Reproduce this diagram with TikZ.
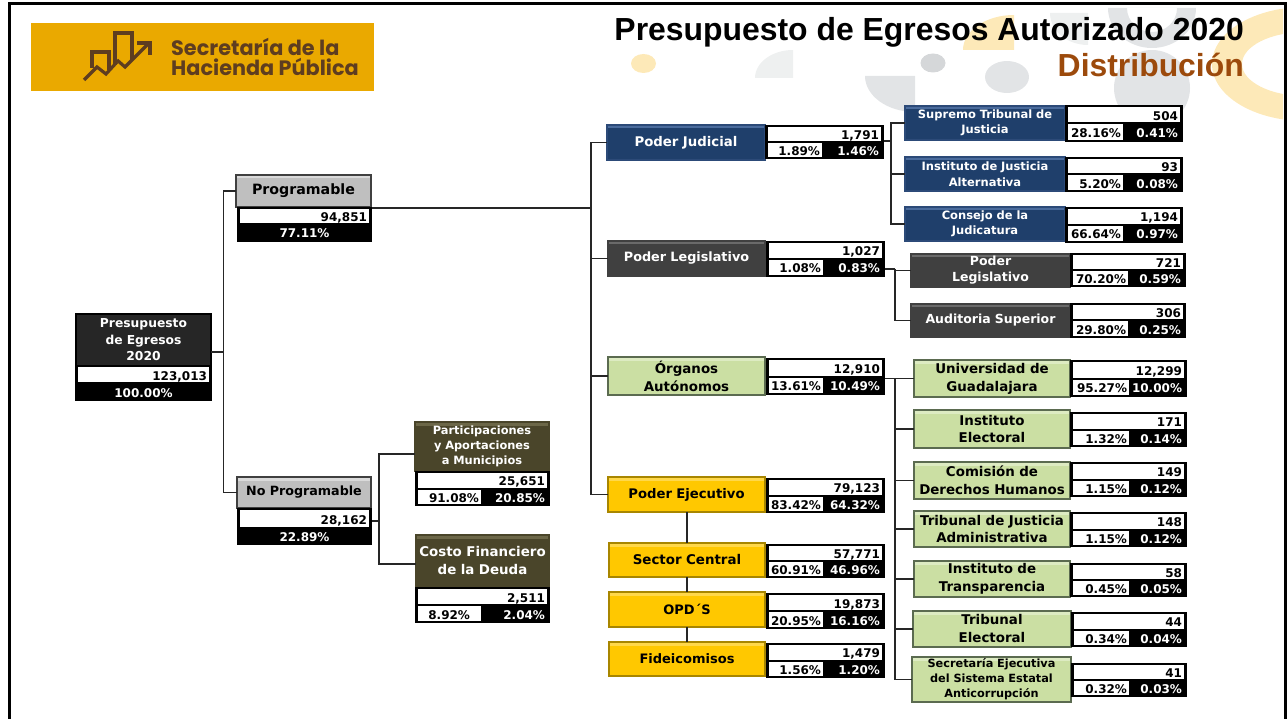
\documentclass[tikz,border=0pt]{standalone}
\usepackage{fontspec}
\usepackage{tikz}
\setmainfont{DejaVu Sans}
\newfontfamily\titlefont{Liberation Sans}
\newfontfamily\logofont{Poppins}

\definecolor{logogold}{HTML}{EAA900}
\definecolor{logobrown}{HTML}{5E3D20}
\definecolor{titlebrown}{HTML}{9C4A0C}
\definecolor{paleyellow}{HTML}{FDE9B8}
\definecolor{palegray}{HTML}{EEF0F0}
\definecolor{midgray}{HTML}{E2E4E6}
\definecolor{dotgray}{HTML}{D5D7D9}
\definecolor{navyfill}{HTML}{1F3F6B}
\definecolor{navyedge}{HTML}{2C4A78}
\definecolor{navytop}{HTML}{4A6B9C}
\definecolor{coalfill}{HTML}{404040}
\definecolor{coaltop}{HTML}{6A6A6A}
\definecolor{greenfill}{HTML}{CBDFA3}
\definecolor{greenedge}{HTML}{5B6B50}
\definecolor{greentop}{HTML}{DDEBC2}
\definecolor{goldfill}{HTML}{FFC800}
\definecolor{goldedge}{HTML}{A88600}
\definecolor{goldtop}{HTML}{FFD84A}
\definecolor{olivefill}{HTML}{4A452A}
\definecolor{olivetop}{HTML}{6C6748}
\definecolor{steelfill}{HTML}{BFBFBF}
\definecolor{steeltop}{HTML}{DADADA}

\newcommand{\fs}[2]{\fontsize{#1}{#2}\selectfont\bfseries}

\tikzset{
    orgnode/.style={rectangle, inner xsep=2pt, inner ysep=0pt, outer sep=0pt, align=center, line width=1.3pt},
    bevel/.style n args={3}{fill=#1, draw=#2,
        path picture={\fill[#3] (path picture bounding box.north west) rectangle ([yshift=-3.5pt]path picture bounding box.north east);}},
    bluebox/.style={orgnode, bevel={navyfill}{navyedge}{navytop}, text=white},
    coalbox/.style={orgnode, bevel={coalfill}{coalfill}{coaltop}, text=white},
    greenbox/.style={orgnode, bevel={greenfill}{greenedge}{greentop}, text=black},
    goldbox/.style={orgnode, bevel={goldfill}{goldedge}{goldtop}, text=black},
    olivebox/.style={orgnode, bevel={olivefill}{olivefill}{olivetop}, text=white},
    steelbox/.style={orgnode, bevel={steelfill}{coalfill}{steeltop}, text=black},
    rootbox/.style={orgnode, fill=black!85, draw=black, text=white},
    tablebase/.style={rectangle, fill=black, inner xsep=2pt, inner ysep=0pt, outer sep=0pt},
    whitecell/.style={rectangle, fill=white, inner xsep=2pt, inner ysep=0pt, outer sep=0pt, align=right, text=black, text height=11pt, text depth=0pt, font=\fs{12}{14}},
    blackcell/.style={rectangle, inner xsep=2pt, inner ysep=0pt, outer sep=0pt, align=right, text=white, text height=11pt, text depth=0pt, font=\fs{12}{14}},
    centercell/.style={blackcell, align=center},
    bus/.style={line width=1.8pt, black!85},
}

\begin{document}
\begin{tikzpicture}[x=1pt, y=-1pt]

    \useasboundingbox (0,0) rectangle (1288,719);

    % Placed node: name, style, x0, y0, x1, y1, text
    \def\place#1#2#3#4#5#6#7{
        \pgfmathsetmacro\tw{(#5)-(#3)-4}
        \pgfmathsetmacro\th{(#6)-(#4)}
        \node[#2, text width=\tw pt, minimum height=\th pt] (#1) at ({((#3)+(#5))/2},{((#4)+(#6))/2}) {#7};
    }

    % Table with split percent row: name, x0, y0, x1, y1, split, value, pct, pct
    \def\splitdata#1#2#3#4#5#6#7#8#9{
        \pgfmathsetmacro\ym{(#3+#5)/2}
        \place{#1t}{tablebase}{#2}{#3}{#4}{#5}{}
        \place{#1v}{whitecell}{#2+3}{#3+2}{#4-3}{\ym-1}{#7}
        \place{#1p}{whitecell}{#2+3}{\ym+1}{#6}{#5-2}{#8}
        \place{#1q}{blackcell}{#6}{\ym+1}{#4-3}{#5-2}{#9}
    }

    % Table with one black percent row: name, x0, y0, x1, split row, y1, value, pct
    \def\plaindata#1#2#3#4#5#6#7#8{
        \place{#1t}{tablebase}{#2}{#3}{#4}{#6}{}
        \place{#1v}{whitecell}{#2+3}{#3+2}{#4-3}{#5}{#7}
        \place{#1q}{centercell}{#2}{#5}{#4}{#6}{#8}
    }

    % Watermark behind the title
    \begin{scope}
        \clip (0,0) rectangle (1283,719);
        \fill[paleyellow, even odd rule] (1305,64) ellipse [x radius=93, y radius=57]
            (1305,64) ellipse [x radius=63, y radius=32];
        \fill[paleyellow] (643.5,63.5) ellipse [x radius=12.5, y radius=9.5];
        \fill[paleyellow] (1014,50) -- (963,50) arc [start angle=180, end angle=90, x radius=51, y radius=-35] -- cycle;
        \fill[palegray] (793,78) -- (755,78) arc [start angle=180, end angle=90, x radius=38, y radius=-28] -- cycle;
        \fill[midgray] (915,76) -- (865,76) arc [start angle=180, end angle=270, x radius=50, y radius=-36] -- cycle;
        \fill[palegray] (1088,13) -- (1050,13) arc [start angle=180, end angle=270, x radius=38, y radius=-32] -- cycle;
        \fill[dotgray] (933,63) ellipse [x radius=12.5, y radius=9.5];
        \fill[midgray] (1007,77) ellipse [x radius=22, y radius=16];
        \fill[midgray] (1152,88) circle (38);
        \fill[midgray, even odd rule] (1108,8) arc [start angle=180, end angle=360, x radius=44, y radius=-40] -- cycle
            (1127,8) arc [start angle=180, end angle=360, x radius=25, y radius=-24] -- cycle;
    \end{scope}

    % Frame, open at the bottom
    \draw[line width=3pt, black] (9,719) -- (9,4) -- (1285,4) -- (1285,719);

    % Logo
    \fill[logogold] (31,23) rectangle (374,91);
    \begin{scope}[logobrown, line width=3.2pt]
        \draw (84,80) -- (97,67) -- (106,74) -- (117,62);
        \draw (92,68) -- (92,52) -- (109,52) -- (109,70);
        \draw (115,65) -- (115,33) -- (132,33) -- (132,60);
        \draw (117,60) -- (125,67) -- (149,43);
        \draw (137,43) -- (150,43) -- (150,55);
    \end{scope}
    \node[logobrown, anchor=base west, inner sep=0pt, align=left, font=\logofont\fontsize{20.8}{19.5}\selectfont\bfseries] (logotext) at (171,75.5) {Secretaría de la\\Hacienda Pública};

    % Title
    \node[anchor=base east, inner sep=0pt, font=\titlefont\fontsize{31.9}{34}\selectfont\bfseries] (title) at (1244,41) {Presupuesto de Egresos Autorizado 2020};
    \node[anchor=base east, inner sep=0pt, text=titlebrown, font=\titlefont\fontsize{31.9}{34}\selectfont\bfseries] (subtitle) at (1244,77) {Distribución};

    % Left side
    \place{root}{rootbox, font=\fs{12.3}{16.5}}{76}{314}{211}{366}{Presupuesto\\de Egresos\\2020}
    \plaindata{root}{75}{365}{212}{382}{401}{123,013}{100.00\%}
    \place{prog}{steelbox, font=\fs{14.2}{15}}{236}{175}{371}{207}{Programable}
    \plaindata{prog}{237}{207}{372}{223}{242}{94,851}{77.11\%}
    \place{noprog}{steelbox, font=\fs{12.7}{15}}{237}{477}{371}{508}{No Programable}
    \plaindata{noprog}{237}{508}{372}{527}{545}{28,162}{22.89\%}
    \place{partic}{olivebox, font=\fs{11.4}{15}}{415}{422}{549}{471}{Participaciones\\y Aportaciones\\a Municipios}
    \splitdata{partic}{415}{471}{550}{506}{481}{25,651}{91.08\%}{20.85\%}
    \place{costo}{olivebox, font=\fs{13.4}{18}}{416}{535}{549}{587}{Costo Financiero\\de la Deuda}
    \splitdata{costo}{415}{587}{550}{623}{481}{2,511}{8.92\%\hspace*{9pt}}{2.04\%}

    % Second column
    \place{judicial}{bluebox, font=\fs{13.3}{15}}{607}{125}{765}{160}{Poder Judicial}
    \splitdata{judicial}{765}{125}{884}{159}{822}{1,791}{1.89\%}{1.46\%}
    \place{legis}{coalbox, font=\fs{12.8}{15}}{608}{241}{765}{276}{Poder Legislativo}
    \splitdata{legis}{766}{241}{885}{277}{823}{1,027}{1.08\%}{0.83\%}
    \place{organos}{greenbox, font=\fs{13.4}{18}}{608}{357}{765}{395}{Órganos\\Autónomos}
    \splitdata{organos}{766}{358}{885}{395}{823}{12,910}{13.61\%}{10.49\%}
    \place{ejecutivo}{goldbox, font=\fs{13.2}{15}}{608}{477}{765}{512}{Poder Ejecutivo}
    \splitdata{ejecutivo}{766}{478}{885}{513}{823}{79,123}{83.42\%}{64.32\%}
    \place{sector}{goldbox, font=\fs{13.4}{15}}{609}{543}{765}{577}{Sector Central}
    \splitdata{sector}{766}{544}{885}{578}{823}{57,771}{60.91\%}{46.96\%}
    \place{opd}{goldbox, font=\fs{13}{15}}{609}{592}{765}{627}{OPD´S}
    \splitdata{opd}{766}{593}{885}{629}{823}{19,873}{20.95\%}{16.16\%}
    \place{fide}{goldbox, font=\fs{13}{15}}{609}{642}{765}{676}{Fideicomisos}
    \splitdata{fide}{766}{643}{885}{678}{823}{1,479}{1.56\%}{1.20\%}

    % Third column
    \place{supremo}{bluebox, font=\fs{11.5}{15.5}}{905}{106}{1065}{140}{Supremo Tribunal de\\Justicia}
    \splitdata{supremo}{1065}{105}{1183}{142}{1123}{504}{28.16\%}{0.41\%}
    \place{alterna}{bluebox, font=\fs{11.5}{15.5}}{905}{157}{1065}{191}{Instituto de Justicia\\Alternativa}
    \splitdata{alterna}{1065}{157}{1183}{192}{1123}{93}{5.20\%}{0.08\%}
    \place{consejo}{bluebox, font=\fs{11.5}{15.5}}{905}{207}{1065}{241}{Consejo de la\\Judicatura}
    \splitdata{consejo}{1065}{207}{1183}{243}{1123}{1,194}{66.64\%}{0.97\%}
    \place{congreso}{coalbox, font=\fs{12.5}{16}}{911}{254}{1070}{287}{Poder\\Legislativo}
    \splitdata{congreso}{1070}{253}{1186}{287}{1128}{721}{70.20\%}{0.59\%}
    \place{auditoria}{coalbox, font=\fs{12.5}{16}}{911}{304}{1070}{337}{Auditoria Superior}
    \splitdata{auditoria}{1070}{303}{1186}{338}{1128}{306}{29.80\%}{0.25\%}
    \place{udg}{greenbox, font=\fs{13.4}{18}}{914}{360}{1070}{397}{Universidad de\\Guadalajara}
    \splitdata{udg}{1070}{360}{1187}{397}{1129}{12,299}{95.27\%}{10.00\%}
    \place{electoral}{greenbox, font=\fs{13.4}{17.5}}{914}{410}{1070}{448}{Instituto\\Electoral}
    \splitdata{electoral}{1070}{412}{1187}{447}{1129}{171}{1.32\%}{0.14\%}
    \place{derechos}{greenbox, font=\fs{13.4}{18}}{914}{462}{1070}{499}{Comisión de\\Derechos Humanos}
    \splitdata{derechos}{1070}{462}{1187}{497}{1129}{149}{1.15\%}{0.12\%}
    \place{tja}{greenbox, font=\fs{13.4}{17.5}}{914}{511}{1070}{547}{Tribunal de Justicia\\Administrativa}
    \splitdata{tja}{1070}{512}{1187}{547}{1129}{148}{1.15\%}{0.12\%}
    \place{transp}{greenbox, font=\fs{13.4}{18}}{914}{561}{1070}{597}{Instituto de\\Transparencia}
    \splitdata{transp}{1070}{563}{1187}{597}{1129}{58}{0.45\%}{0.05\%}
    \place{tribunal}{greenbox, font=\fs{13.4}{18}}{913}{611}{1071}{647}{Tribunal\\Electoral}
    \splitdata{tribunal}{1071}{612}{1187}{647}{1129}{44}{0.34\%}{0.04\%}
    \place{anticorr}{greenbox, font=\fs{11.3}{15}}{912}{657}{1071}{702}{Secretaría Ejecutiva\\del Sistema Estatal\\Anticorrupción}
    \splitdata{anticorr}{1071}{663}{1187}{697}{1129}{41}{0.32\%}{0.03\%}

    % Connectors
    \coordinate (rootbus) at (223.5,352);
    \draw[bus] (rootbus -| root.east) -- (rootbus);
    \foreach \n in {prog,noprog} {
        \draw[bus] (rootbus) |- (\n.west);
    }

    \coordinate (npbus) at (379,521);
    \draw[bus] (npbus -| noprogt.east) -- (npbus);
    \draw[bus] (npbus) |- ([yshift=-7.5pt]partic.west);
    \draw[bus] (npbus) |- ([yshift=-3pt]costo.west);

    \coordinate (powerbus) at (591,208);
    \draw[bus] (powerbus -| progt.east) -- (powerbus);
    \foreach \n in {judicial,legis,organos,ejecutivo} {
        \draw[bus] (powerbus) |- (\n.west);
    }

    \coordinate (judbus) at (891,141);
    \draw[bus] (judbus -| judicialt.east) -- (judbus);
    \foreach \n in {supremo,alterna,consejo} {
        \draw[bus] (judbus) |- (\n.west);
    }

    \coordinate (legbus) at (895,269);
    \draw[bus] (legbus -| legist.east) -- (legbus);
    \foreach \n in {congreso,auditoria} {
        \draw[bus] (legbus) |- (\n.west);
    }

    \coordinate (orgbus) at (895,378.5);
    \draw[bus] (orgbus -| organost.east) -- (udg.west);
    \foreach \n in {electoral,derechos,tja,transp,tribunal,anticorr} {
        \draw[bus] (orgbus) |- (\n.west);
    }

    \draw[bus] (sector.north) -- (sector.north |- ejecutivo.south);
    \draw[bus] (sector.south) -- (opd.north);
    \draw[bus] (opd.south) -- (fide.north);

\end{tikzpicture}
\end{document}
